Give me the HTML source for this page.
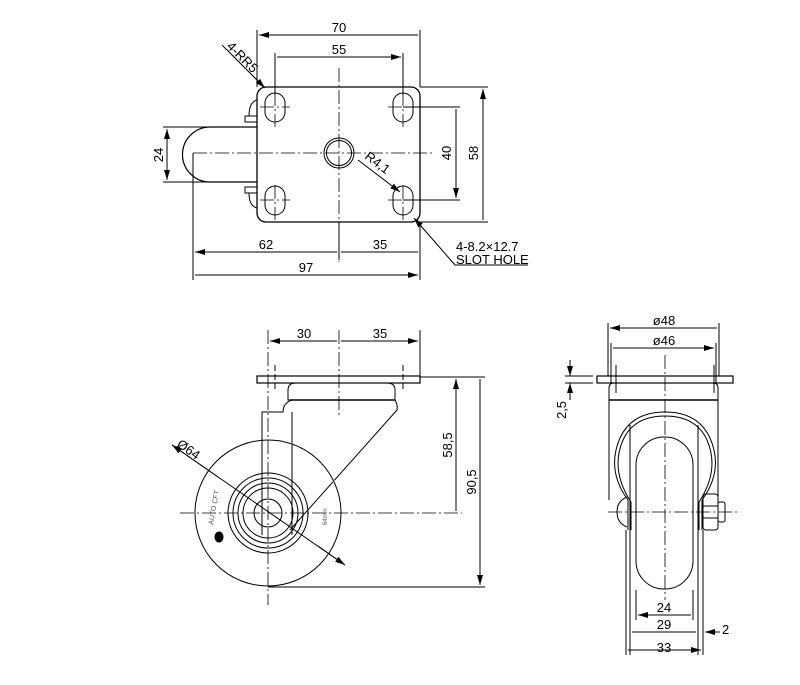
<!DOCTYPE html>
<html><head><style>html,body{margin:0;padding:0;background:#fff}svg{display:block}text{font-family:"Liberation Sans",sans-serif;font-size:13px;fill:#000}</style></head><body>
<svg width="800" height="685" viewBox="0 0 800 685" xmlns="http://www.w3.org/2000/svg">
<defs>
<marker id="a" viewBox="0 0 10 6" refX="10" refY="3" markerWidth="10" markerHeight="6" orient="auto-start-reverse" markerUnits="userSpaceOnUse"><path d="M0,0L10,3L0,6z" fill="#000"/></marker>
</defs>
<g fill="none" stroke="#000" stroke-width="1">
<!-- TOP VIEW -->
<rect x="257" y="87" width="163" height="135" rx="9" stroke-width="1.3"/>
<path d="M257,127H210A27,27 0 0 0 210,182H257" stroke-width="1.2"/>
<rect x="245" y="116" width="12" height="6"/><rect x="245" y="187" width="12" height="6"/>
<path d="M257,100q-8,2 -8,16"/><path d="M257,208q-8,-2 -8,-15"/>
<circle cx="339" cy="153" r="15"/><circle cx="339" cy="153" r="12.5"/>
<rect x="265" y="93" width="20" height="29" rx="10"/>
<rect x="393" y="93" width="20" height="29" rx="10"/>
<rect x="265" y="186" width="20" height="29" rx="10"/>
<rect x="393" y="186" width="20" height="29" rx="10"/>
<g stroke-width="0.8" stroke-dasharray="14,3,2,3">
<path d="M193,153H432"/><path d="M339,68V262"/>
<path d="M260,107H290M275,92V127M388,107H418M403,92V127M260,200H290M275,185V220M388,200H418M403,185V220"/>
</g>
<path d="M257,30V87M420,30V87M275,53V95M403,53V95"/>
<path d="M259,35H418M277,57H401" marker-start="url(#a)" marker-end="url(#a)"/>
<path d="M420,87H488M420,222H488M403,107H460M403,200H460"/>
<path d="M483,89V220M456,109V198" marker-start="url(#a)" marker-end="url(#a)"/>
<path d="M163,127H215M163,182H215"/>
<path d="M167,129V180" marker-start="url(#a)" marker-end="url(#a)"/>
<path d="M193,153V280M420,222V280M339,222V260"/>
<path d="M195,252H337M341,252H418M195,275H418" marker-start="url(#a)" marker-end="url(#a)"/>
<path d="M222,45L265,88" marker-end="url(#a)"/>
<path d="M358,160L400,192" marker-end="url(#a)"/>
<path d="M455,265L414,218" marker-end="url(#a)"/><path d="M455,265H528"/>
<!-- SIDE VIEW -->
<rect x="257" y="376" width="163" height="7" stroke-width="1.2"/>
<path d="M288,400V390Q288,383 296,383H387Q395,383 395,390V400Z"/>
<path d="M290,400H395" stroke-width="1.5"/>
<path d="M292,400q-9,3 -9,12H262V535M292,412V535"/>
<path d="M395,400q3,5 2,10L290,530"/>
<circle cx="268" cy="513" r="73"/>
<path d="M268,440A73,73 0 0 1 339,496" stroke-dasharray="6,3" stroke="#fff" stroke-width="2"/>
<path d="M268,440A73,73 0 0 1 339,496" stroke-dasharray="6,3"/>
<circle cx="268" cy="513" r="14"/>
<circle cx="268" cy="513" r="40"/><circle cx="268" cy="513" r="35"/><circle cx="268" cy="513" r="30"/><circle cx="268" cy="513" r="25"/>
<ellipse cx="219" cy="537" rx="4" ry="5" fill="#000"/>
<g stroke-width="0.8" stroke-dasharray="14,3,2,3">
<path d="M268,330V605M339,330V415M180,513H462"/>
</g>
<path d="M275,365V390M403,365V390" stroke-dasharray="6,3"/>
<path d="M420,330V376"/>
<path d="M270,341H337M341,341H418" marker-start="url(#a)" marker-end="url(#a)"/>
<path d="M420,377H485M268,587H485"/>
<path d="M456,379V511M480,379V585" marker-start="url(#a)" marker-end="url(#a)"/>
<path d="M172,445L345,565"/><path d="M218,477L172,445" marker-end="url(#a)"/><path d="M318,546L345,565" marker-end="url(#a)"/>
<!-- FRONT VIEW -->
<rect x="597" y="376" width="136" height="7" stroke-width="1.2"/>
<path d="M609,400V388Q609,383 614,383H713Q718,383 718,388V400"/>
<path d="M609,400H718" stroke-width="1.5"/>
<path d="M609,400V500M718,400V500"/>
<path d="M628,530V500Q606,470 620,438Q632,412 665,412Q698,412 710,438Q724,470 702,500V530"/>
<path d="M631,530V502Q610,470 623,440Q634,416 665,416Q696,416 707,440Q720,470 699,502V530"/>
<path d="M630,425V655M698,425V655M626,530V655M703,530V655"/>
<rect x="636" y="437" width="57" height="152" rx="28"/>
<path d="M627,497q-10,4 -10,15q0,11 10,15"/>
<rect x="703" y="494" width="15" height="36" rx="3"/><path d="M703,506H718M703,518H718"/>
<rect x="718" y="502" width="7" height="20" rx="2"/>
<g stroke-width="0.8" stroke-dasharray="14,3,2,3"><path d="M665,355V600M608,512H738"/></g>
<path d="M616,365V393M714,365V393"/>
<path d="M608,323V376M719,323V376M611,343V383M716,343V383"/>
<path d="M610,328H717M613,348H714" marker-start="url(#a)" marker-end="url(#a)"/>
<path d="M565,376H593M565,383H593"/>
<path d="M570,360V376" marker-end="url(#a)"/><path d="M570,400V383" marker-end="url(#a)"/>
<path d="M636,590V620M693,590V620"/>
<path d="M638,615H691M632,632H696M628,650H701" marker-start="url(#a)" marker-end="url(#a)"/>
<path d="M720,632H705" marker-end="url(#a)"/>
</g>
<text x="339" y="32" text-anchor="middle">70</text>
<text x="339" y="54" text-anchor="middle">55</text>
<text transform="translate(478,153) rotate(-90)" text-anchor="middle">58</text>
<text transform="translate(451,153) rotate(-90)" text-anchor="middle">40</text>
<text transform="translate(163,155) rotate(-90)" text-anchor="middle">24</text>
<text x="266" y="249" text-anchor="middle">62</text>
<text x="380" y="249" text-anchor="middle">35</text>
<text x="306" y="272" text-anchor="middle">97</text>
<text transform="translate(226,47) rotate(45)">4-RR5</text>
<text transform="translate(364,158) rotate(37)">R4,1</text>
<text x="456" y="251">4-8.2×12.7</text>
<text x="456" y="264">SLOT HOLE</text>
<text x="304" y="338" text-anchor="middle">30</text>
<text x="380" y="338" text-anchor="middle">35</text>
<text transform="translate(452,445) rotate(-90)" text-anchor="middle">58,5</text>
<text transform="translate(476,482) rotate(-90)" text-anchor="middle">90,5</text>
<text transform="translate(176,446) rotate(35)">Ø64</text>
<text transform="translate(213,525) rotate(-80)" style="font-size:7px;fill:#555">AUTO CFT</text>
<text transform="translate(327,525) rotate(-90)" style="font-size:6px;fill:#555">64mm</text>
<text x="664" y="325" text-anchor="middle">ø48</text>
<text x="664" y="345" text-anchor="middle">ø46</text>
<text transform="translate(566,410) rotate(-90)" text-anchor="middle">2,5</text>
<text x="664" y="612" text-anchor="middle">24</text>
<text x="664" y="629" text-anchor="middle">29</text>
<text x="722" y="634">2</text>
<text x="664" y="652" text-anchor="middle">33</text>
</svg>
</body></html>
